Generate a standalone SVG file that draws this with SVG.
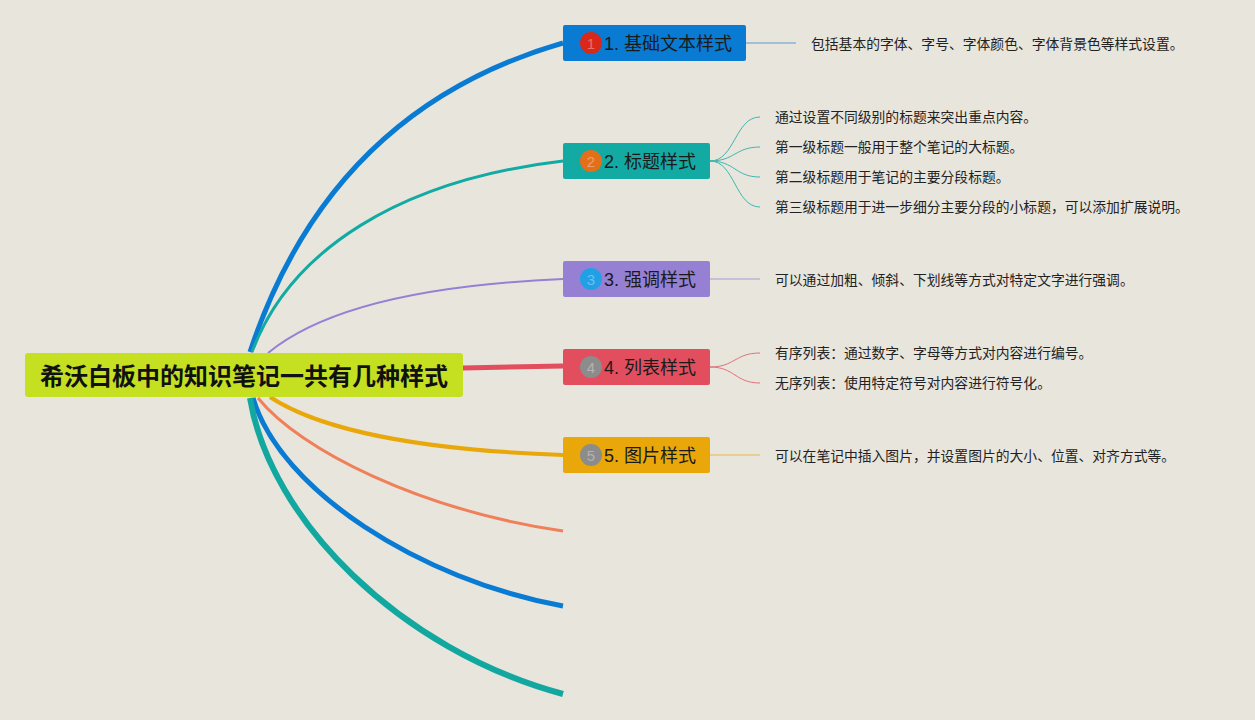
<svg xmlns="http://www.w3.org/2000/svg" width="1255" height="720" viewBox="0 0 1255 720">
<style>
.nt{font-family:"Liberation Sans","Noto Sans CJK SC",sans-serif;font-size:18px;fill:#1a1a1a;dominant-baseline:central}
.lt{font-family:"Liberation Sans","Noto Sans CJK SC",sans-serif;font-size:13.8px;fill:#222;dominant-baseline:central}
.bn{font-family:"Liberation Sans","Noto Sans CJK SC",sans-serif;font-size:15px;fill:#ffffff;fill-opacity:0.35;text-anchor:middle;dominant-baseline:central}
.c{fill:none;stroke-linecap:butt}
</style>
<rect width="1255" height="720" fill="#e8e5dd"/>
<g id="connectors">
<path class="c" d="M250,352 Q330,110 563,43" stroke="#0a7bd2" stroke-width="5"/>
<path class="c" d="M252,352 C290,250 400,180 563,161" stroke="#12aaa3" stroke-width="3"/>
<path class="c" d="M268,353 C320,310 420,285 563,279" stroke="#9580d4" stroke-width="2"/>
<path class="c" d="M463,368 L563,366" stroke="#e24e5e" stroke-width="5"/>
<path class="c" d="M270,397 C320,430 420,450 563,455" stroke="#e9a70a" stroke-width="4"/>
<path class="c" d="M258,398 C300,450 420,510 563,531" stroke="#f0805a" stroke-width="3"/>
<path class="c" d="M253,398 C280,490 420,580 563,606" stroke="#0a7bd2" stroke-width="5"/>
<path class="c" d="M250,398 C270,520 400,650 563,694" stroke="#12a8a0" stroke-width="6"/>
<path class="c" d="M746,43 L796,43" stroke="#5a9ad2" stroke-width="1.2"/>
<g stroke="#3fb5b0" stroke-width="1" fill="none">
<path d="M710,161 C735,161 735,117 760,117"/>
<path d="M710,161 C735,161 735,147 760,147"/>
<path d="M710,161 C735,161 735,177 760,177"/>
<path d="M710,161 C735,161 735,207 760,207"/>
</g>
<path class="c" d="M710,279 L760,279" stroke="#a898d8" stroke-width="1.2"/>
<g stroke="#e0707c" stroke-width="1" fill="none">
<path d="M710,367 C735,367 735,353 760,353"/>
<path d="M710,367 C735,367 735,383 760,383"/>
</g>
<path class="c" d="M710,455 L760,455" stroke="#e9b84a" stroke-width="1.2"/>
</g>
<g id="root">
<rect x="25" y="353" width="438" height="44" rx="3" fill="#c4e021"/>
<text x="244" y="376" text-anchor="middle" font-family="Liberation Sans,Noto Sans CJK SC,sans-serif" font-size="24" font-weight="bold" fill="#111" dominant-baseline="central">希沃白板中的知识笔记一共有几种样式</text>
</g>
<g id="n1">
<rect x="563" y="25" width="183" height="36" rx="2" fill="#0a7bd2"/>
<circle cx="591" cy="43" r="11" fill="#d9281a"/>
<text class="bn" x="591" y="43">1</text>
<text class="nt" x="604" y="44">1. 基础文本样式</text>
<text class="lt" x="811" y="44">包括基本的字体、字号、字体颜色、字体背景色等样式设置。</text>
</g>
<g id="n2">
<rect x="563" y="143" width="147" height="36" rx="2" fill="#12aaa3"/>
<circle cx="591" cy="161" r="11" fill="#e2701a"/>
<text class="bn" x="591" y="161">2</text>
<text class="nt" x="604" y="162">2. 标题样式</text>
<text class="lt" x="775" y="117">通过设置不同级别的标题来突出重点内容。</text>
<text class="lt" x="775" y="147">第一级标题一般用于整个笔记的大标题。</text>
<text class="lt" x="775" y="177">第二级标题用于笔记的主要分段标题。</text>
<text class="lt" x="775" y="207">第三级标题用于进一步细分主要分段的小标题，可以添加扩展说明。</text>
</g>
<g id="n3">
<rect x="563" y="261" width="147" height="36" rx="2" fill="#9580d4"/>
<circle cx="591" cy="279" r="11" fill="#22a0e6"/>
<text class="bn" x="591" y="279">3</text>
<text class="nt" x="604" y="280">3. 强调样式</text>
<text class="lt" x="775" y="280">可以通过加粗、倾斜、下划线等方式对特定文字进行强调。</text>
</g>
<g id="n4">
<rect x="563" y="349" width="147" height="36" rx="2" fill="#e24e5e"/>
<circle cx="591" cy="367" r="11" fill="#8c8c8c"/>
<text class="bn" x="591" y="367">4</text>
<text class="nt" x="604" y="368">4. 列表样式</text>
<text class="lt" x="775" y="353">有序列表：通过数字、字母等方式对内容进行编号。</text>
<text class="lt" x="775" y="383">无序列表：使用特定符号对内容进行符号化。</text>
</g>
<g id="n5">
<rect x="563" y="437" width="147" height="36" rx="2" fill="#e9a70a"/>
<circle cx="591" cy="455" r="11" fill="#8c8c8c"/>
<text class="bn" x="591" y="455">5</text>
<text class="nt" x="604" y="456">5. 图片样式</text>
<text class="lt" x="775" y="456">可以在笔记中插入图片，并设置图片的大小、位置、对齐方式等。</text>
</g>
</svg>
